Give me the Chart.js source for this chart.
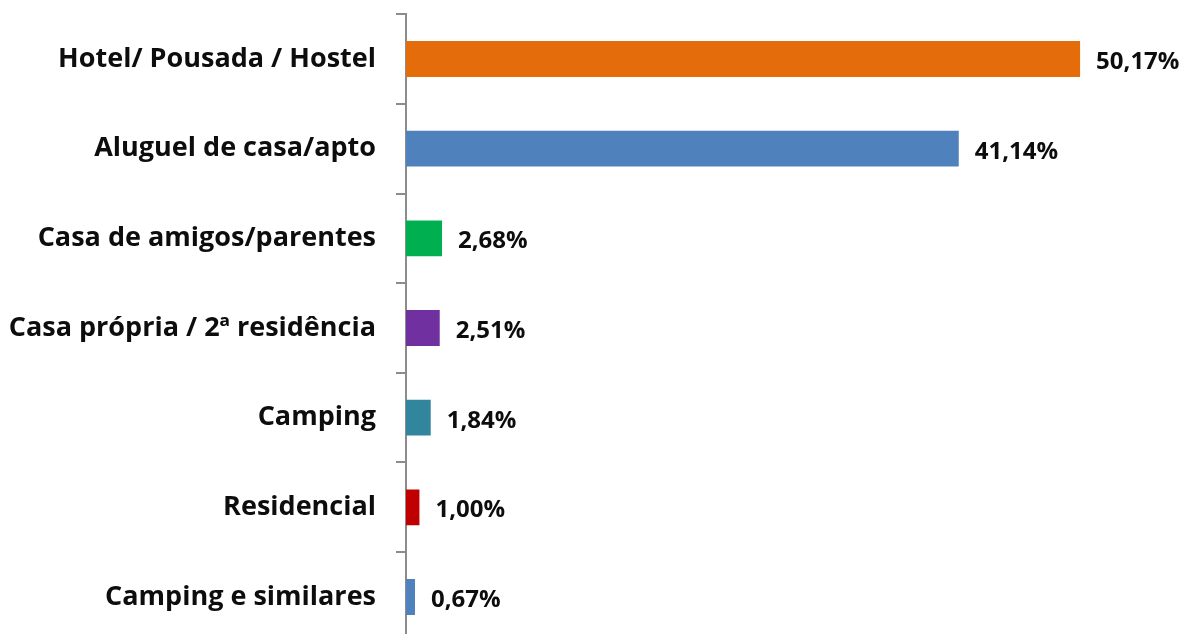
<!DOCTYPE html>
<html>
<head>
<meta charset="utf-8">
<script src="https://cdn.jsdelivr.net/npm/chart.js@4/dist/chart.umd.min.js"></script>
<style>
  html, body { margin: 0; padding: 0; background: #fff; overflow: hidden; }
  #wrap { width: 1184px; height: 700px; position: relative; margin-top: -22px; }
</style>
</head>
<body>
<div id="wrap"><canvas id="chart"></canvas></div>
<script>
// Categorias e valores (%)
const categorias = [
    'Hotel/ Pousada / Hostel',
    'Aluguel de casa/apto',
    'Casa de amigos/parentes',
    'Casa própria / 2ª residência',
    'Camping',
    'Residencial',
    'Camping e similares'
];
const valores = [50.17, 41.14, 2.68, 2.51, 1.84, 1.00, 0.67];
const cores = ['#E46C0A', '#4F81BD', '#00B050', '#7030A0', '#31859C', '#C00000', '#4F81BD'];

const fonte = '"Open Sans", "Noto Sans", sans-serif';

// Rótulos de valor à direita das barras
const rotulosPlugin = {
    id: 'rotulos',
    afterDatasetsDraw(chart) {
        const ctx = chart.ctx;
        const meta = chart.getDatasetMeta(0);
        ctx.save();
        ctx.font = 'bold 24px ' + fonte;
        ctx.fillStyle = '#0d0d0d';
        ctx.textAlign = 'left';
        ctx.textBaseline = 'middle';
        meta.data.forEach((bar, i) => {
            const txt = valores[i].toFixed(2).replace('.', ',') + '%';
            ctx.fillText(txt, bar.x + 16, bar.y + 3);
        });
        ctx.restore();
    }
};

new Chart(document.getElementById('chart'), {
    type: 'bar',
    data: {
        labels: categorias,
        datasets: [{
            data: valores,
            backgroundColor: cores,
            borderWidth: 0,
            barPercentage: 0.8,
            categoryPercentage: 0.5
        }]
    },
    options: {
        indexAxis: 'y',
        responsive: true,
        maintainAspectRatio: false,
        animation: false,
        layout: { padding: { top: 13, right: 39, bottom: 0, left: 0 } },
        plugins: {
            legend: { display: false },
            tooltip: { enabled: false }
        },
        scales: {
            x: {
                display: false,
                min: 0,
                max: 55
            },
            y: {
                afterFit(scale) { scale.width = 406; },
                grid: {
                    drawOnChartArea: false,
                    offset: true,
                    tickLength: 10,
                    color: '#8c8c8c',
                    lineWidth: 2
                },
                border: { color: '#8c8c8c', width: 2 },
                ticks: {
                    color: '#0d0d0d',
                    padding: 20,
                    font: { family: fonte, size: 27, weight: 'bold' }
                }
            }
        }
    },
    plugins: [rotulosPlugin]
});
</script>
</body>
</html>
